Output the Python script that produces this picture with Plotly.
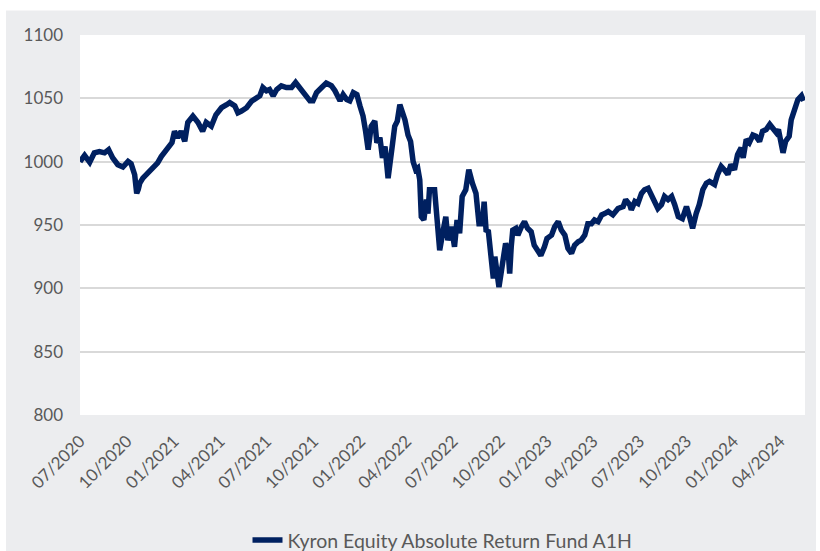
import plotly.graph_objects as go

series_name = "Kyron Equity Absolute Return Fund A1H"

dates = [
    "2020-07-01", "2020-07-10", "2020-07-20", "2020-07-29", "2020-08-08", "2020-08-18", "2020-08-26",
    "2020-09-03", "2020-09-13", "2020-09-23", "2020-10-03", "2020-10-09", "2020-10-16", "2020-10-20",
    "2020-10-23", "2020-10-26", "2020-11-01", "2020-11-11", "2020-11-20", "2020-11-30", "2020-12-07",
    "2020-12-14", "2020-12-21", "2020-12-28", "2021-01-02", "2021-01-08", "2021-01-15", "2021-01-22",
    "2021-01-28", "2021-02-07", "2021-02-17", "2021-02-26", "2021-03-05", "2021-03-15", "2021-03-24",
    "2021-04-04", "2021-04-14", "2021-04-20", "2021-04-30", "2021-05-06", "2021-05-13", "2021-05-23",
    "2021-06-02", "2021-06-08", "2021-06-18", "2021-06-24", "2021-07-01", "2021-07-07", "2021-07-14",
    "2021-07-21", "2021-07-30", "2021-08-09", "2021-08-19", "2021-08-27", "2021-09-04", "2021-09-14",
    "2021-09-24", "2021-09-30", "2021-10-07", "2021-10-17", "2021-10-26", "2021-11-05", "2021-11-12",
    "2021-11-22", "2021-11-28", "2021-12-05", "2021-12-11", "2021-12-18", "2021-12-25", "2021-12-31",
    "2022-01-06", "2022-01-11", "2022-01-16", "2022-01-22", "2022-01-29", "2022-02-02", "2022-02-08",
    "2022-02-13", "2022-02-18", "2022-02-24", "2022-02-27", "2022-03-05", "2022-03-09", "2022-03-14",
    "2022-03-19", "2022-03-24", "2022-03-29", "2022-04-04", "2022-04-09", "2022-04-14", "2022-04-19",
    "2022-04-23", "2022-04-27", "2022-04-30", "2022-05-05", "2022-05-10", "2022-05-13", "2022-05-16",
    "2022-05-26", "2022-05-31", "2022-06-05", "2022-06-12", "2022-06-17", "2022-06-21", "2022-06-28",
    "2022-07-04", "2022-07-09", "2022-07-14", "2022-07-19", "2022-07-26", "2022-08-01", "2022-08-08",
    "2022-08-15", "2022-08-21", "2022-08-28", "2022-08-31", "2022-09-04", "2022-09-08", "2022-09-11",
    "2022-09-15", "2022-09-18", "2022-09-21", "2022-09-24", "2022-09-29", "2022-10-04", "2022-10-07",
    "2022-10-12", "2022-10-17", "2022-10-20", "2022-10-23", "2022-10-26", "2022-11-01", "2022-11-05",
    "2022-11-12", "2022-11-18", "2022-11-24", "2022-12-01", "2022-12-07", "2022-12-14", "2022-12-20",
    "2022-12-27", "2023-01-01", "2023-01-10", "2023-01-16", "2023-01-23", "2023-01-29", "2023-02-05",
    "2023-02-11", "2023-02-18", "2023-02-24", "2023-03-03", "2023-03-09", "2023-03-16", "2023-03-22",
    "2023-03-29", "2023-04-04", "2023-04-11", "2023-04-18", "2023-04-24", "2023-05-01", "2023-05-10",
    "2023-05-20", "2023-05-30", "2023-06-04", "2023-06-12", "2023-06-15", "2023-06-22", "2023-06-28",
    "2023-07-05", "2023-07-11", "2023-07-18", "2023-07-24", "2023-07-31", "2023-08-06", "2023-08-13",
    "2023-08-19", "2023-08-26", "2023-09-02", "2023-09-08", "2023-09-15", "2023-09-23", "2023-10-01",
    "2023-10-07", "2023-10-13", "2023-10-20", "2023-10-26", "2023-11-02", "2023-11-09", "2023-11-15",
    "2023-11-25", "2023-12-01", "2023-12-08", "2023-12-14", "2023-12-21", "2023-12-27", "2024-01-03",
    "2024-01-09", "2024-01-16", "2024-01-20", "2024-01-26", "2024-02-01", "2024-02-08", "2024-02-14",
    "2024-02-21", "2024-02-27", "2024-03-05", "2024-03-12", "2024-03-18", "2024-03-25", "2024-03-29",
    "2024-04-04", "2024-04-07", "2024-04-12", "2024-04-19", "2024-04-23", "2024-04-30", "2024-05-06",
    "2024-05-13", "2024-05-17",
]

values = [
    1000, 1005, 999.5, 1007, 1008, 1007, 1009.5,
    1003, 997.6, 995.8, 1000.2, 998.4, 989.7, 975,
    978, 983, 987, 991, 995, 999, 1004,
    1008, 1011, 1015, 1024, 1019, 1024, 1016,
    1031, 1036, 1031, 1024, 1031, 1028, 1037,
    1042.6, 1045, 1046.6, 1044, 1038.6, 1040, 1042.6,
    1047.8, 1049, 1052, 1058.5, 1056, 1057, 1052,
    1057, 1059.8, 1058.5, 1058.5, 1062.5, 1058.5, 1054.5,
    1048, 1048, 1054.5, 1058.5, 1062, 1060, 1056,
    1048, 1053, 1049, 1048, 1054.5, 1053, 1044,
    1036, 1024, 1009.5, 1028, 1032, 1015, 1019,
    1003, 1012, 987, 999, 1015, 1028, 1032,
    1045, 1038.6, 1033, 1021, 1016, 1000, 993.7,
    995, 985.7, 956.6, 954, 970, 959, 977.8,
    977.8, 954, 930, 946, 956.6, 938, 948.6,
    932.8, 954, 943.5, 972.5, 977.8, 993.7, 983,
    975, 951, 951, 968.5, 944.7, 946, 932.8,
    922, 907.7, 925, 911.7, 901, 914.3, 922,
    935.5, 930, 911.7, 932.8, 946, 947.4, 942,
    948.6, 952.6, 947.4, 944.7, 934, 930, 926,
    932.8, 939.4, 942, 948.6, 952.6, 946, 942,
    931.5, 927.6, 934, 936.7, 938, 942, 951,
    951, 954, 952.6, 958, 959, 960.6, 958,
    963, 964.5, 970, 966, 962, 968.5, 967,
    975, 977.8, 979, 974, 970, 963, 966,
    972.5, 970, 972.5, 966, 956.6, 955, 964.5,
    956.6, 947.4, 959, 966, 977.8, 983, 984.4,
    982, 990, 996.3, 993.7, 990, 997.6, 993.7,
    1005.5, 1011, 1003, 1017.5, 1015, 1021, 1020,
    1016, 1024, 1025.4, 1029.4, 1026.7, 1022.8, 1025.4,
    1008, 1007, 1016, 1020, 1033, 1041, 1049,
    1052, 1048,
]

x_range = ["2020-07-01", "2024-05-20"]
y_range = [800, 1100]
y_ticks = [800, 850, 900, 950, 1000, 1050, 1100]

LINE = "#002060"
GRID = "#D9D9D9"
TXT = "#595959"
BG = "#ECEDEF"
FONT = "Lato, 'Liberation Sans', sans-serif"

fig = go.Figure()
fig.add_trace(go.Scatter(
    x=dates, y=values, mode="lines", name=series_name,
    line=dict(color=LINE, width=5.5, shape="linear"),
    showlegend=True,
))

# white page strips around the grey chart area (top, left, right)
for x0, x1, y0, y1 in [(-0.12, 1.03, 1.0644, 1.10), (-0.12, -0.1021, -0.40, 1.10), (1.0152, 1.03, -0.40, 1.10)]:
    fig.add_shape(type="rect", xref="paper", yref="paper", x0=x0, x1=x1, y0=y0, y1=y1,
                  fillcolor="white", line=dict(width=0), layer="above")

fig.update_layout(
    template="none",
    width=820, height=551,
    margin=dict(l=80, r=15, t=35, b=136, autoexpand=False),
    paper_bgcolor=BG,
    plot_bgcolor="white",
    font=dict(family=FONT, size=17, color=TXT),
    showlegend=True,
    legend=dict(orientation="h", x=0.5, xanchor="center", y=-0.33, yanchor="middle",
                font=dict(size=19.5, color=TXT), bgcolor="rgba(0,0,0,0)"),
    xaxis=dict(
        type="date", range=x_range, tick0="2020-07-01", dtick="M3", tickformat="%m/%Y",
        tickangle=-45, showgrid=False, zeroline=False, showline=False, ticks="",
        tickfont=dict(size=17, color=TXT), ticklabelstandoff=12,
    ),
    yaxis=dict(
        range=y_range, tickvals=y_ticks, showgrid=True, gridcolor=GRID, gridwidth=1.5,
        zeroline=False, showline=False, ticks="",
        tickfont=dict(size=17, color=TXT), ticklabelstandoff=16,
    ),
)

fig.write_html("out.html", config={"displayModeBar": False},
               post_script="document.body.style.margin='0';")
